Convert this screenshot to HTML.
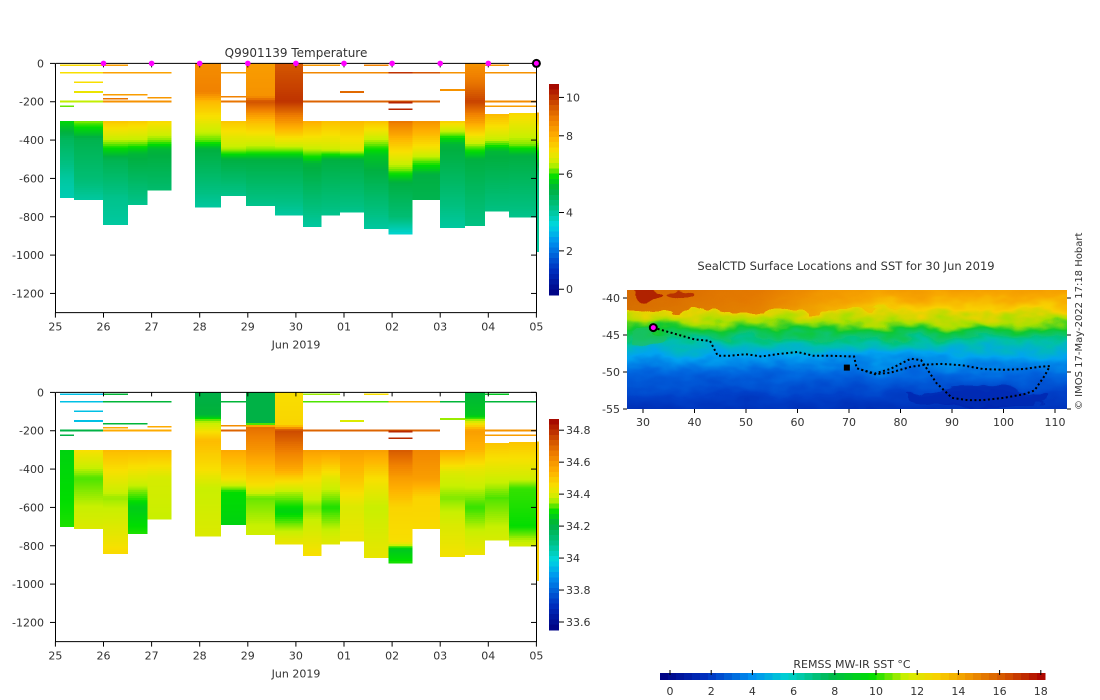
<!DOCTYPE html>
<html><head><meta charset="utf-8">
<style>
html,body{margin:0;padding:0;background:#fff;}
svg{display:block;font-family:"DejaVu Sans","Liberation Sans",sans-serif;}
text{fill:#333;font-size:11px;}
</style></head>
<body>
<svg id="chart" width="1100" height="700" viewBox="0 0 1100 700" xmlns="http://www.w3.org/2000/svg">
<defs>
  <linearGradient id="sstbg" x1="0" y1="0" x2="0" y2="1">
    <stop offset="0" stop-color="#f09000"/>
    <stop offset="0.12" stop-color="#f8a800"/>
    <stop offset="0.22" stop-color="#f8d000"/>
    <stop offset="0.29" stop-color="#a8e000"/>
    <stop offset="0.35" stop-color="#10c830"/>
    <stop offset="0.45" stop-color="#00c0a8"/>
    <stop offset="0.54" stop-color="#00a4f0"/>
    <stop offset="0.66" stop-color="#0068e0"/>
    <stop offset="0.82" stop-color="#0040c8"/>
    <stop offset="1" stop-color="#0028b0"/>
  </linearGradient>
  <linearGradient id="sstleft" x1="0" y1="0" x2="1" y2="0">
    <stop offset="0" stop-color="#d06000" stop-opacity="0.9"/>
    <stop offset="0.5" stop-color="#e07000" stop-opacity="0.8"/>
    <stop offset="0.8" stop-color="#f09000" stop-opacity="0.4"/>
    <stop offset="1" stop-color="#f0a000" stop-opacity="0"/>
  </linearGradient>
  <filter id="wob" x="-5%" y="-5%" width="110%" height="110%">
    <feTurbulence type="fractalNoise" baseFrequency="0.03 0.06" numOctaves="3" seed="4" result="n"/>
    <feDisplacementMap in="SourceGraphic" in2="n" scale="22" xChannelSelector="R" yChannelSelector="G"/>
  </filter>
  <clipPath id="mapclip"><rect x="627" y="290" width="440" height="119"/></clipPath>
  <clipPath id="clipTop"><rect x="55" y="60" width="484" height="253"/></clipPath>
  <clipPath id="clipBot"><rect x="55" y="389" width="484" height="253"/></clipPath>
</defs>
<g id="topPanel"></g>
<g id="botPanel"></g>
<g id="mapPanel"></g>
<text x="296" y="57" text-anchor="middle" style="font-size:12px">Q9901139  Temperature</text>
<text x="846" y="270" text-anchor="middle" style="font-size:11.5px">SealCTD Surface Locations and SST for 30 Jun 2019</text>
<text transform="translate(1082,410) rotate(-90)" style="font-size:10px">© IMOS 17-May-2022 17:18 Hobart</text>
<text x="852" y="668" text-anchor="middle">REMSS MW-IR SST °C</text>
</svg>
<script>
// ---------- DATA ----------
const dayLabels = ['25','26','27','28','29','30','01','02','03','04','05'];
const depthTicks = [0,200,400,600,800,1000,1200];
const tempCbTicks = [0,2,4,6,8,10];
const salCbTicks = [33.6,33.8,34,34.2,34.4,34.6,34.8];
const sstCbTicks = [0,2,4,6,8,10,12,14,16,18];
const lonTicks = [30,40,50,60,70,80,90,100,110];
const latTicks = [-40,-45,-50,-55];
// profile time spans (days since 25 Jun) and depth ranges
const profStart = [0.1,0.39,0.99,1.51,1.91,2.90,3.44,3.96,4.57,5.15,5.53,5.92,6.42,6.92,7.42,8.0,8.52,8.93,9.43,9.99];
const profEnd   = [0.39,0.99,1.51,1.91,2.41,3.44,3.96,4.57,5.15,5.53,5.92,6.42,6.92,7.42,8.0,8.52,8.93,9.43,9.99,10.05];
const profTop   = [300,300,300,300,300,0,300,0,0,300,300,300,300,300,300,300,0,265,260,255];
const profBot   = [700,710,840,735,660,750,690,740,790,850,790,775,860,890,710,855,845,770,800,980];
const profTemp = [
 [[300,5.8],[400,4.8],[600,4.0],[700,3.8]],
 [[300,6.3],[400,5.0],[600,4.5],[710,4.0]],
 [[300,7.6],[400,6.5],[500,5.0],[700,4.2],[840,4.0]],
 [[300,7.5],[400,6.5],[470,5.3],[735,4.2]],
 [[300,7.3],[400,6.3],[450,5.3],[660,4.6]],
 [[0,8.6],[150,8.8],[200,7.8],[400,6.2],[450,5.2],[750,4.0]],
 [[300,7.6],[450,6.4],[500,5.2],[690,4.2]],
 [[0,8.3],[170,8.5],[200,9.6],[300,7.8],[450,6.3],[500,5.2],[740,4.2]],
 [[0,9.5],[200,10.0],[300,8.5],[450,6.3],[500,5.2],[790,4.0]],
 [[300,8.0],[450,6.5],[520,5.3],[850,4.0]],
 [[300,7.7],[450,6.6],[500,5.2],[790,4.2]],
 [[300,7.8],[450,6.8],[500,5.2],[775,4.2]],
 [[300,7.7],[480,5.5],[860,4.0]],
 [[300,9.0],[400,7.8],[550,6.3],[620,5.2],[800,4.5],[890,3.5]],
 [[300,8.5],[450,7.0],[580,5.2],[710,5.0]],
 [[300,7.5],[420,5.3],[855,4.0]],
 [[0,8.5],[100,9.0],[200,9.8],[300,8.3],[430,6.3],[500,5.2],[845,4.3]],
 [[265,7.8],[400,6.5],[460,5.3],[770,4.3]],
 [[260,7.3],[420,6.3],[480,5.2],[800,4.2]],
 [[255,8],[450,6],[600,4.5],[980,4.0]]
];
const profSal = [
 [[300,34.27],[700,34.3]],
 [[300,34.45],[450,34.32],[600,34.37],[710,34.4]],
 [[300,34.52],[450,34.42],[550,34.35],[750,34.42],[840,34.46]],
 [[300,34.52],[450,34.4],[600,34.26],[735,34.3]],
 [[300,34.52],[450,34.39],[660,34.37]],
 [[0,34.2],[120,34.22],[150,34.35],[250,34.52],[400,34.45],[500,34.37],[750,34.4]],
 [[300,34.56],[450,34.45],[520,34.29],[690,34.27]],
 [[0,34.2],[160,34.2],[180,34.68],[300,34.6],[480,34.45],[550,34.33],[740,34.38]],
 [[0,34.45],[170,34.47],[200,34.75],[400,34.56],[520,34.36],[620,34.27],[790,34.43]],
 [[300,34.58],[450,34.45],[600,34.34],[850,34.45]],
 [[300,34.58],[450,34.41],[600,34.3],[790,34.41]],
 [[300,34.58],[450,34.5],[600,34.4],[775,34.43]],
 [[300,34.58],[450,34.45],[600,34.37],[860,34.42]],
 [[300,34.72],[450,34.58],[600,34.47],[780,34.45],[820,34.25],[890,34.3]],
 [[300,34.63],[450,34.58],[550,34.47],[710,34.46]],
 [[300,34.56],[420,34.4],[550,34.34],[700,34.4],[855,34.44]],
 [[0,34.22],[120,34.25],[200,34.58],[300,34.53],[400,34.42],[600,34.31],[845,34.43]],
 [[265,34.5],[450,34.38],[550,34.32],[770,34.39]],
 [[260,34.5],[450,34.38],[500,34.31],[700,34.29],[800,34.39]],
 [[255,34.5],[980,34.48]]
];
// thin shallow segments: depth, startDay, endDay, temp, sal
const segDepth = [10,10,10,10,10,50,50,50,50,50,50,50,50,100,150,150,140,165,185,180,175,200,200,200,200,200,205,225,225,240];
const segStart = [0.1,0.99,5.15,6.42,8.93,0.1,0.99,3.44,5.15,6.92,7.42,8.0,8.93,0.39,0.39,5.92,8.0,0.99,0.99,1.91,3.44,0.1,0.99,3.44,5.15,8.93,6.92,0.1,8.93,6.92];
const segEnd   = [0.99,1.51,5.92,6.92,9.43,0.99,2.41,3.96,6.92,7.42,8.0,8.52,10.0,0.99,0.99,6.42,8.52,1.91,1.51,2.41,3.96,0.99,2.41,3.96,8.0,10.0,7.42,0.39,9.99,7.42];
const segTemp  = [7.3,8.3,8.4,8.8,8.4,7.2,8.2,8.3,8.7,10.0,9.5,8.5,8.5,7.2,7.0,9.2,8.5,8.3,9.0,8.4,8.8,6.5,8.5,9.0,9.3,8.6,10.2,6.2,8.3,10.2];
const segSal   = [33.95,34.22,34.35,34.45,34.25,33.95,34.22,34.22,34.32,34.55,34.55,34.22,34.22,33.95,33.95,34.4,34.35,34.22,34.55,34.55,34.62,34.2,34.55,34.7,34.7,34.6,34.8,34.2,34.58,34.8];
const markerDays = [1,2,3,4,5,6,7,8,9];
// seal track (lon, lat)
const trackLon = [32,34,37,40,43,44.5,47,50,53,56,60,63,66,71,71.5,75,78,82,84,87,90,93,96,100,104,106,108,109,107,104,100,96,92,88,85,82,78,75,72];
const trackLat = [-44,-44.4,-45,-45.6,-45.8,-47.8,-47.8,-47.6,-47.9,-47.6,-47.3,-47.8,-47.8,-47.9,-49.5,-50.2,-49.6,-48.2,-48.4,-51.5,-53.5,-53.8,-53.8,-53.5,-53,-52.5,-50.5,-49.2,-49.3,-49.6,-49.7,-49.6,-49.1,-48.9,-49,-49.3,-50.1,-50.3,-49.6];

// ---------- HELPERS ----------
const NS='http://www.w3.org/2000/svg';
const svg=document.getElementById('chart');
function mk(tag,attrs,parent){const e=document.createElementNS(NS,tag);for(const k in attrs)e.setAttribute(k,attrs[k]);(parent||svg).appendChild(e);return e;}
const cmapStops=[[0,[0,0,128]],[0.12,[0,48,192]],[0.25,[0,144,240]],[0.33,[0,216,224]],[0.42,[0,192,128]],[0.5,[0,176,64]],[0.56,[0,221,0]],[0.62,[200,240,0]],[0.68,[248,224,0]],[0.75,[255,176,0]],[0.83,[240,128,0]],[0.9,[208,80,0]],[1,[160,0,0]]];
function cmap(f){f=Math.max(0,Math.min(1,f));for(let i=1;i<cmapStops.length;i++){if(f<=cmapStops[i][0]){const a=cmapStops[i-1],b=cmapStops[i];const t=(f-a[0])/(b[0]-a[0]);const c=a[1].map((v,j)=>Math.round(v+(b[1][j]-v)*t));return 'rgb('+c.join(',')+')';}}return 'rgb(160,0,0)';}
function interp(stops,d){if(d<=stops[0][0])return stops[0][1];for(let i=1;i<stops.length;i++){if(d<=stops[i][0]){const a=stops[i-1],b=stops[i];return a[1]+(b[1]-a[1])*(d-a[0])/(b[0]-a[0]);}}return stops[stops.length-1][1];}
const xDay=d=>55.4+d*48.1;

function panel(g,y0,stopsArr,segVals,vmin,vmax,cbTicks,cbTop,cbBot,clipId,fmt,isTop){
  const yD=d=>y0+d*0.1917;
  const frac=v=>(v-vmin)/(vmax-vmin);
  const cg=mk('g',{'clip-path':'url(#'+clipId+')','shape-rendering':'crispEdges'},g);
  for(let p=0;p<profStart.length;p++){
    const x1=xDay(profStart[p]),x2=xDay(profEnd[p]);
    for(let d=profTop[p];d<profBot[p];d+=10){
      const r=mk('rect',{x:x1,y:yD(d),width:x2-x1,height:yD(Math.min(d+10,profBot[p]))-yD(d)+0.5,fill:cmap(frac(interp(stopsArr[p],d+5)))},cg);
      
      
    }
  }
  for(let i=0;i<segDepth.length;i++){
    const r=mk('rect',{x:xDay(segStart[i]),y:yD(segDepth[i])-1,width:xDay(segEnd[i])-xDay(segStart[i]),height:1.6,fill:cmap(frac(segVals[i]))},cg);
    
    
  }
  const bot=y0+1300*0.1917;
  const ax=mk('path',{d:`M55.5 ${y0} V${bot} H536.5 V${y0} M55.5 ${y0} H536.5`,fill:'none',stroke:'#000','stroke-width':1},g);
  
  
  depthTicks.forEach(t=>{
    const y=yD(t);
    mk('line',{x1:50,x2:55,y1:y,y2:y,stroke:'#000'},g);
    mk('line',{x1:531,x2:536,y1:y,y2:y,stroke:'#000'},g);
    const tx=mk('text',{x:44,y:y+4,'text-anchor':'end'},g);tx.textContent=t===0?'0':'-'+t;
    
    
  });
  dayLabels.forEach((l,i)=>{
    const x=xDay(i);
    mk('line',{x1:x,x2:x,y1:bot,y2:bot+5,stroke:'#000'},g);
    mk('line',{x1:x,x2:x,y1:y0,y2:y0+4,stroke:'#000'},g);
    const tx=mk('text',{x:x,y:bot+18,'text-anchor':'middle'},g);tx.textContent=l;
    
    
  });
  const xl=mk('text',{x:296,y:bot+36,'text-anchor':'middle'},g);xl.textContent='Jun 2019';
  
  
  const cb=mk('g',{'shape-rendering':'crispEdges'},g);
  
  
  const n=40;
  for(let i=0;i<n;i++){
    const y=cbTop+(cbBot-cbTop)*i/n;
    mk('rect',{x:549,y:y,width:10,height:(cbBot-cbTop)/n+0.6,fill:cmap(1-(i+0.5)/n)},cb);
  }
  const vy=v=>cbBot-(cbBot-cbTop)*frac(v);
  cbTicks.forEach(t=>{
    const y=vy(t);
    mk('line',{x1:559,x2:564,y1:y,y2:y,stroke:'#000'},g);
    const tx=mk('text',{x:566,y:y+4},g);tx.textContent=fmt(t);
    
    
  });
  if(isTop){
    markerDays.forEach(d=>{
      const m=mk('circle',{cx:xDay(d),cy:y0,r:2.8,fill:'#ff00ff'},g);
      
      
    });
    const c=mk('circle',{cx:xDay(10),cy:y0,r:3.5,fill:'#ff00ff',stroke:'#000','stroke-width':2},g);
    
    
  }
}
panel(document.getElementById('topPanel'),63.4,profTemp,segTemp,-0.3,10.7,tempCbTicks,84,295,'clipTop',t=>String(t),true);
panel(document.getElementById('botPanel'),392.4,profSal,segSal,33.55,34.87,salCbTicks,419,630,'clipBot',t=>String(+t.toFixed(1)),false);

// ---------- MAP ----------
const mg=document.getElementById('mapPanel');
const lonX=l=>643+(l-30)*5.15;
const latY=l=>298+(-40-l)*7.4;
const field=mk('g',{'clip-path':'url(#mapclip)'},mg);


const fg=mk('g',{filter:'url(#wob)'},field);
mk('rect',{x:610,y:280,width:470,height:140,fill:'url(#sstbg)'},fg);
mk('rect',{x:610,y:280,width:300,height:32,fill:'url(#sstleft)'},fg);
mk('ellipse',{cx:lonX(31),cy:latY(-39.3),rx:14,ry:8,fill:'#b02000'},fg);
mk('ellipse',{cx:lonX(37),cy:latY(-39.2),rx:14,ry:5,fill:'#b83000'},fg);
mk('ellipse',{cx:lonX(31),cy:latY(-45.5),rx:20,ry:10,fill:'#20c060',opacity:0.7},fg);
mk('ellipse',{cx:lonX(95),cy:latY(-53.5),rx:70,ry:10,fill:'#0020a8',opacity:0.6},fg);
let dpath='';
trackLon.forEach((lo,i)=>{dpath+=(i?'L':'M')+lonX(lo).toFixed(1)+' '+latY(trackLat[i]).toFixed(1);});
const tr=mk('path',{d:dpath,fill:'none',stroke:'#000','stroke-width':2,'stroke-dasharray':'2 2.5'},field);


mk('rect',{x:lonX(69),y:latY(-49),width:6,height:6,fill:'#000'},field);
const cm=mk('circle',{cx:lonX(32),cy:latY(-44),r:3.5,fill:'#ff00ff',stroke:'#000','stroke-width':2},mg);


lonTicks.forEach(l=>{
  const x=lonX(l);
  mk('line',{x1:x,x2:x,y1:409,y2:413,stroke:'#000'},mg);
  const t=mk('text',{x:x,y:426,'text-anchor':'middle'},mg);t.textContent=l;
  
  
});
latTicks.forEach(l=>{
  const y=latY(l);
  mk('line',{x1:623,x2:627,y1:y,y2:y,stroke:'#000'},mg);
  mk('line',{x1:1067,x2:1071,y1:y,y2:y,stroke:'#000'},mg);
  const t=mk('text',{x:620,y:y+4,'text-anchor':'end'},mg);t.textContent=l;
  
  
});
// SST colorbar
const scb=mk('g',{'shape-rendering':'crispEdges'},svg);


const sx=v=>670+v*20.6;
const sstStops=[[0,[0,0,128]],[0.12,[0,48,192]],[0.24,[0,144,240]],[0.33,[0,210,210]],[0.44,[0,184,80]],[0.55,[0,221,0]],[0.64,[210,240,0]],[0.72,[248,210,0]],[0.8,[240,150,0]],[0.9,[210,80,0]],[1,[170,0,0]]];
for(let i=0;i<48;i++){
  const f=(i+0.5)/48;let c;
  for(let k=1;k<sstStops.length;k++){if(f<=sstStops[k][0]){const a=sstStops[k-1],b=sstStops[k];const t=(f-a[0])/(b[0]-a[0]);c=a[1].map((v,j)=>Math.round(v+(b[1][j]-v)*t));break;}}
  mk('rect',{x:660+385*i/48,y:673,width:385/48+0.6,height:7,fill:'rgb('+c.join(',')+')'},scb);
}
sstCbTicks.forEach(v=>{
  mk('line',{x1:sx(v),x2:sx(v),y1:670,y2:675,stroke:'#000'},svg);
  const t=mk('text',{x:sx(v),y:695,'text-anchor':'middle'},svg);t.textContent=v;
  
  
});
</script>
</body></html>
